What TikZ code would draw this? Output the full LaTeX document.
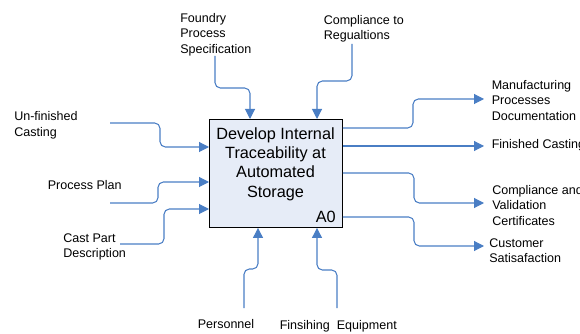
\documentclass[tikz,border=0pt]{standalone}
\usepackage{fontspec}
\setmainfont{Liberation Sans}
\usetikzlibrary{arrows.meta}
\definecolor{flowblue}{HTML}{4A7EC4}
\definecolor{boxfill}{HTML}{E6ECF7}
\tikzset{
  flow/.style={draw=flowblue, line width=0.8pt, rounded corners=4pt, -{Triangle[length=7.5pt,width=7.5pt]}},
  lbl/.style={anchor=north west, inner sep=0pt, align=left, font=\fontsize{9.4}{11.6}\selectfont},
  proc/.style={draw=black, fill=boxfill, line width=0.7pt, anchor=north west, minimum width=99.75pt, minimum height=81pt, inner sep=0pt}
}
\begin{document}
\begin{tikzpicture}[x=0.75pt,y=-0.75pt]
\useasboundingbox (0,0) rectangle (580,334);
% process box
\node[proc] (box) at (209,119) {};
\node[anchor=north, inner sep=0pt, align=center, font=\fontsize{12.2}{14.6}\selectfont] (title) at (275.5,127) {Develop Internal\\Traceability at\\Automated\\Storage};
\node[anchor=north east, inner sep=0pt, font=\fontsize{12.2}{14.6}\selectfont] (a0) at (336,211) {A0};
% labels
\node[lbl] (lfps) at (180,13) {Foundry\\Process\\Specification};
\node[lbl] (lctr) at (323.5,15) {Compliance to\\Regualtions};
\node[lbl] (luc) at (14,111.5) {Un-finished\\Casting};
\node[lbl] (lpp) at (47.5,180) {Process Plan};
\node[lbl] (lcp) at (63,233) {Cast Part\\Description};
\node[lbl] (lpers) at (197.5,319) {Personnel};
\node[lbl] (lfe) at (279.5,320) {Finsihing\ \ Equipment};
\node[lbl] (lmpd) at (491.5,80) {Manufacturing\\Processes\\Documentation};
\node[lbl] (lfc) at (491.5,139.5) {Finished Casting};
\node[lbl] (lcvc) at (492,185) {Compliance and\\Validation\\Certificates};
\node[lbl] (lcs) at (489,238.5) {Customer\\Satisafaction};
% free ends
\coordinate (suc) at (110,123);
\coordinate (spp) at (110,203);
\coordinate (scp) at (120,244);
\coordinate (sfps) at (215,56);
\coordinate (sctr) at (352,44);
\coordinate (spers) at (244,308);
\coordinate (sfe) at (337,308);
\coordinate (empd) at (484,99);
\coordinate (efc) at (484,146);
\coordinate (ecvc) at (484,203);
\coordinate (ecs) at (484,246);
% inputs
\draw[flow] (suc) -- (160,123) -- (160,147) -- (box.west |- 0,147);
\draw[flow] (spp) -- (158,203) -- (158,182) -- (box.west |- 0,182);
\draw[flow] (scp) -- (164,244) -- (164,209) -- (box.west |- 0,209);
% controls
\draw[flow] (sfps) -- (215,88) -- (250,88) -- (box.north -| 250,0);
\draw[flow] (sctr) -- (352,81) -- (317,81) -- (box.north -| 317,0);
% mechanisms
\draw[flow] (spers) -- (244,269) -- (258,269) -- (box.south -| 258,0);
\draw[flow] (sfe) -- (337,270) -- (317,270) -- (box.south -| 317,0);
% outputs
\draw[flow] (box.east |- 0,128) -- (413,128) -- (413,99) -- (empd);
\draw[flow] (box.east |- 0,146) -- (efc);
\draw[flow] (box.east |- 0,173) -- (414,173) -- (414,203) -- (ecvc);
\draw[flow] (box.east |- 0,217) -- (414,217) -- (414,246) -- (ecs);
\end{tikzpicture}
\end{document}
